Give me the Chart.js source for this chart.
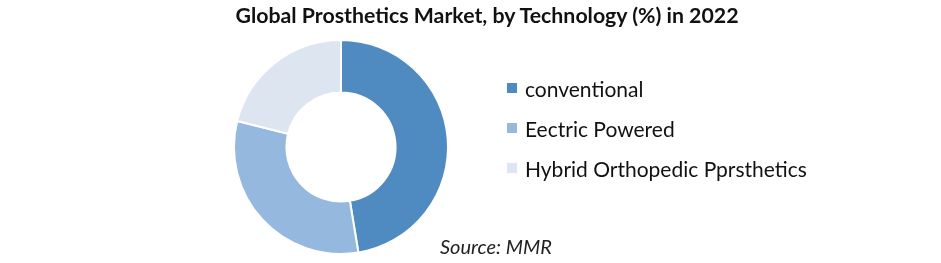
<!DOCTYPE html>
<html>
<head>
<meta charset="utf-8">
<script src="https://cdn.jsdelivr.net/npm/chart.js@4/dist/chart.umd.min.js"></script>
<style>
  html, body { margin: 0; padding: 0; background: #fff; }
  #wrap { position: relative; width: 941px; height: 263px; overflow: hidden; }
  #c { position: absolute; left: 0; top: 0; }
  #title { position: absolute; left: 0; width: 974px; top: 2px; text-align: center;
           font-family: Lato, "Liberation Sans", sans-serif; font-weight: bold; font-size: 21.3px; color: #111; white-space: nowrap; }
  #legend { position: absolute; left: 507px; top: 68px; font-family: Lato, "Liberation Sans", sans-serif; font-size: 21px; color: #111; }
  .item { height: 40px; display: flex; align-items: center; white-space: nowrap; }
  .box { width: 10px; height: 10px; margin-right: 8px; }
  #source { position: absolute; left: 440px; top: 234px; font-family: Lato, "Liberation Sans", sans-serif; font-style: italic; font-size: 20px; color: #222; }
</style>
</head>
<body>
<div id="wrap">
  <canvas id="c" width="941" height="263"></canvas>
  <div id="title"></div>
  <div id="legend"></div>
  <div id="source"></div>
</div>
<script>
const titleText = "Global Prosthetics Market, by Technology (%) in 2022";
const sourceText = "Source: MMR";
const categories = ["conventional", "Eectric Powered", "Hybrid Orthopedic Pprsthetics"];
const shares = [47.4, 31.5, 21.1];
const colors = ["#4F8BC0", "#95B8DF", "#DCE5F0"];

document.getElementById('title').textContent = titleText;
document.getElementById('source').textContent = sourceText;
const leg = document.getElementById('legend');
categories.forEach((c, i) => {
  const d = document.createElement('div'); d.className = 'item';
  const b = document.createElement('span'); b.className = 'box'; b.style.background = colors[i];
  const t = document.createElement('span'); t.textContent = c;
  d.appendChild(b); d.appendChild(t); leg.appendChild(d);
});

new Chart(document.getElementById('c'), {
  type: 'doughnut',
  data: {
    labels: categories,
    datasets: [{ data: shares, backgroundColor: colors, borderColor: '#ffffff', borderWidth: 2 }]
  },
  options: {
    responsive: false,
    animation: false,
    cutout: '51%',
    layout: { padding: { left: 233, right: 492, top: 39, bottom: 8 } },
    plugins: { legend: { display: false }, title: { display: false }, tooltip: { enabled: false } }
  }
});
</script>
</body>
</html>
